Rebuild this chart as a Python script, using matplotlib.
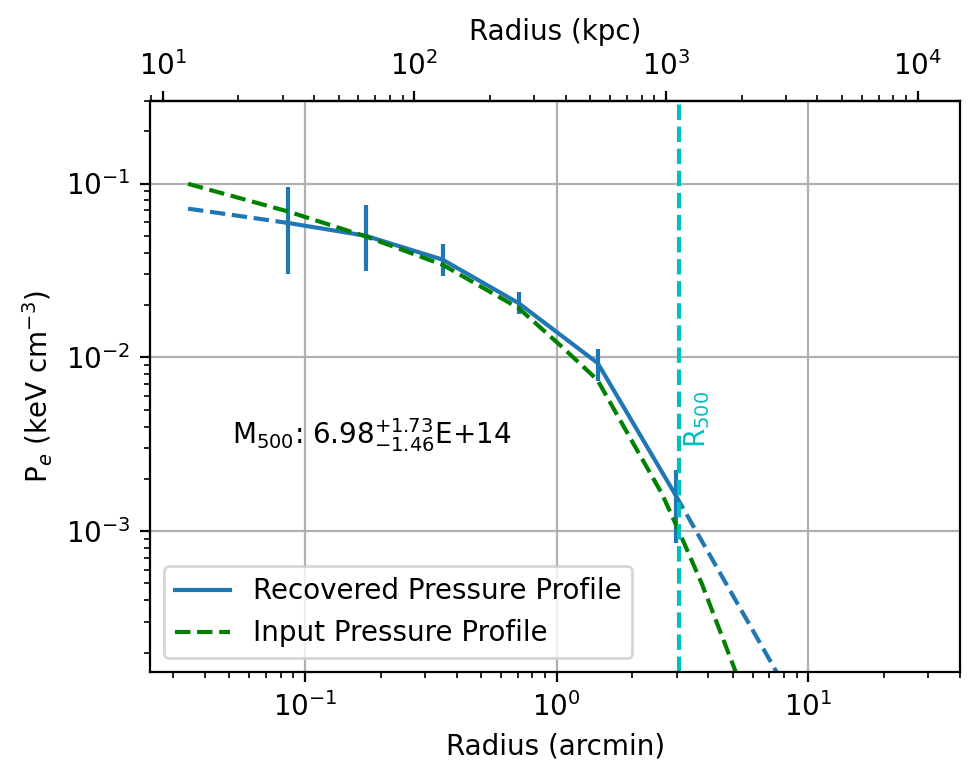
import numpy as np
import matplotlib
matplotlib.use('Agg')
import matplotlib.pyplot as plt

# recovered profile (arcmin, keV cm^-3)
r_arcmin = [0.0852, 0.174, 0.352, 0.706, 1.456, 2.97]
p_rec = [0.0594, 0.0501, 0.0365, 0.0205, 0.00926, 0.00161]
p_err_lo = [0.0292, 0.0188, 0.0073, 0.0028, 0.00191, 0.00075]
p_err_hi = [0.0363, 0.0256, 0.0086, 0.0032, 0.00194, 0.00064]

# dashed extrapolations of the recovered profile
r_inner = [0.0343, 0.0852]
p_inner = [0.0717, 0.0594]
r_outer = [2.97, 10.0]
p_outer = [0.00161, 7.4e-5]

# input profile
r_input = [0.0343, 0.0852, 0.174, 0.352, 0.706, 1.047, 1.452, 2.05,
           2.615, 3.05, 3.77, 5.12, 6.0]
p_input = [0.0996, 0.0692, 0.0497, 0.0341, 0.0192, 0.01153, 0.00741,
           0.00306, 0.00165, 0.00101, 0.0005, 1.58e-4, 8.7e-5]

r500_arcmin = 3.05
kpc_per_arcmin = 368.0


def main():
    fig = plt.figure(figsize=(4.9, 3.9), dpi=200)
    ax = fig.add_axes([0.153, 0.138, 0.827, 0.733])

    ax.plot(r_arcmin, p_rec, color='C0', label='Recovered Pressure Profile')
    ax.errorbar(r_arcmin, p_rec, yerr=[p_err_lo, p_err_hi], fmt='none',
                ecolor='C0')
    ax.plot(r_inner, p_inner, '--', color='C0')
    ax.plot(r_outer, p_outer, '--', color='C0')
    ax.plot(r_input, p_input, '--', color='green', label='Input Pressure Profile')

    ax.axvline(r500_arcmin, color='c', linestyle='--')
    ax.text(3.15, 0.003, r'R$_{500}$', color='c', rotation=90,
            ha='left', va='bottom', fontsize=10)
    ax.text(0.101, 0.415, r'M$_{500}$: $6.98^{+1.73}_{-1.46}$E+14',
            transform=ax.transAxes, ha='left', va='center', fontsize=10)

    ax.set_xscale('log')
    ax.set_yscale('log')
    ax.set_xlim(0.0242, 40.2)
    ax.set_ylim(1.54e-4, 0.30)
    ax.grid(True)

    ax.set_xlabel('Radius (arcmin)')
    ax.set_ylabel(r'P$_e$ (keV cm$^{-3}$)')

    top = ax.secondary_xaxis('top', functions=(lambda x: x * kpc_per_arcmin,
                                               lambda x: x / kpc_per_arcmin))
    top.set_xlabel('Radius (kpc)')

    ax.legend(loc='lower left')

    fig.savefig('out.png', dpi=200)


if __name__ == '__main__':
    main()
